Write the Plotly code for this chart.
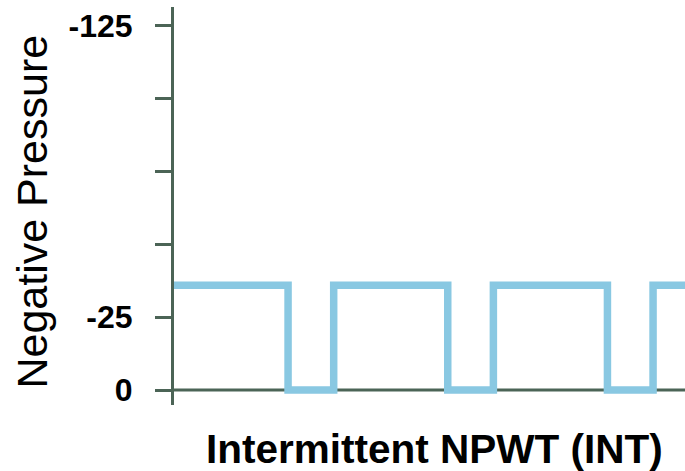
import plotly.graph_objects as go

# intermittent cycle: 5 min on, 2 min off
time_min = [0, 5, 7, 12, 14, 19, 21, 23]
pressure = [-36, 0, -36, 0, -36, 0, -36, -36]

y_ticks = [0, -25, -50, -75, -100, -125]
y_tick_text = ["<b>0</b>", "<b>-25</b>", "", "", "", "<b>-125</b>"]

axis_col = "#4b6456"
font_fam = "Arial"

fig = go.Figure()
fig.add_trace(go.Scatter(
    x=time_min, y=pressure, mode="lines",
    line=dict(color="#89c8e2", width=7.5, shape="hv"),
    hoverinfo="skip", showlegend=False,
))

fig.update_xaxes(range=[0, 22.4], showgrid=False, zeroline=False,
                 showticklabels=False, ticks="", showline=False)
fig.update_yaxes(range=[5.15, -131.52], showgrid=False, zeroline=False,
                 tickvals=y_ticks, ticktext=y_tick_text,
                 ticks="outside", ticklen=16, tickwidth=3, tickcolor=axis_col,
                 showline=True, linewidth=3, linecolor=axis_col,
                 ticklabelstandoff=16,
                 tickfont=dict(family=font_fam, size=32, color="black"))

# x axis sits at y = 0
fig.add_shape(type="line", xref="paper", yref="y", x0=0, x1=1, y0=0, y1=0,
              line=dict(color=axis_col, width=3), layer="below")

fig.add_annotation(text="Negative Pressure", textangle=-90, showarrow=False,
                   xref="paper", yref="paper", x=-(174 - 32) / 511, y=0.486,
                   xanchor="center", yanchor="middle",
                   font=dict(family=font_fam, size=43, color="black"))
fig.add_annotation(text="<b>Intermittent NPWT (INT)</b>", showarrow=False,
                   xref="paper", yref="paper", x=(434.5 - 174) / 511, y=-(449 - 405) / 398,
                   xanchor="center", yanchor="middle",
                   font=dict(family=font_fam, size=40.5, color="black"))

fig.update_layout(
    width=685, height=471,
    margin=dict(l=174, r=0, t=7, b=66, pad=0),
    plot_bgcolor="white", paper_bgcolor="white",
)
fig.write_html("out.html", config={"displayModeBar": False},
               post_script="document.body.style.margin='0';")
